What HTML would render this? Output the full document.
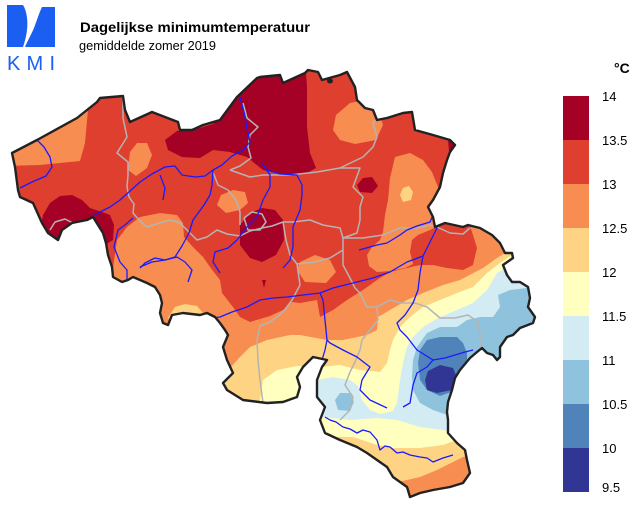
<!DOCTYPE html>
<html><head><meta charset="utf-8"><style>
html,body{margin:0;padding:0;background:#fff;}
svg{display:block;}
text{font-family:"Liberation Sans",Arial,sans-serif;}
</style></head><body>
<svg width="640" height="507" viewBox="0 0 640 507" xmlns="http://www.w3.org/2000/svg">
<defs>
<clipPath id="be"><polygon points="12,153 37,140 77,118 97,102 100,98 123,96 125,110 130,122 152,112 178,122 180,130 192,130 203,125 220,120 237,97 257,78 260,77 280,75 283,83 305,73 308,70 318,72 322,80 340,75 347,72 355,87 357,100 365,108 373,110 377,120 387,118 403,113 412,112 415,130 433,135 450,140 455,145 450,152 447,160 443,173 440,187 433,200 428,207 433,217 435,227 445,223 463,227 468,225 480,228 492,235 500,243 505,253 512,253 513,258 503,265 507,275 512,282 520,282 528,287 530,298 528,307 535,317 533,323 520,328 513,335 507,337 500,347 500,357 497,360 493,355 487,353 482,348 477,352 470,358 460,370 455,378 452,390 448,402 447,412 448,420 448,433 457,443 465,450 467,460 470,473 463,483 450,487 433,490 420,493 410,497 407,487 393,477 387,467 377,460 367,453 357,447 340,440 325,433 320,420 325,407 317,397 317,380 322,367 327,360 313,357 303,367 297,377 300,387 297,397 283,402 267,403 243,400 227,390 223,383 233,373 227,360 223,347 228,335 225,330 220,323 215,317 207,313 200,315 183,313 172,315 168,325 163,323 160,313 162,303 160,295 155,287 147,283 140,280 133,277 128,280 122,282 113,277 112,267 108,255 106,243 103,233 93,217 87,220 72,223 62,230 58,240 48,233 42,223 33,203 20,197 18,190 15,167"/></clipPath>
</defs>

<!-- Logo -->
<path d="M7,5 L23,5 C27,11 28,22 27,30 C26,38 24,44 23,47 L7,47 Z" fill="#1a5ef2"/>
<path d="M42,7 L55,7 L55,47 L25,47 C27,42 31,35 34,28 C37,20 39,13 42,7 Z" fill="#1a5ef2"/>
<text x="7" y="70" font-size="20" fill="#1a5ef2" textLength="48" lengthAdjust="spacing">KMI</text>

<!-- Titles -->
<text x="80" y="32" font-size="14" font-weight="bold" fill="#000" textLength="230" lengthAdjust="spacingAndGlyphs">Dagelijkse minimumtemperatuur</text>
<text x="79" y="50" font-size="13" fill="#000" textLength="137" lengthAdjust="spacingAndGlyphs">gemiddelde zomer 2019</text>

<!-- Map -->
<g clip-path="url(#be)">
<rect x="0" y="0" width="640" height="507" fill="#DE3F2E"/>
<polygon fill="#F88D52" points="0,150 0,166 40,165 80,161 85,143 88,110 92,90 40,90"/>
<polygon fill="#F88D52" points="128,170 130,152 137,143 147,143 152,155 147,168 136,176"/>
<polygon fill="#F88D52" points="333,130 336,115 350,103 365,100 378,108 383,125 376,140 355,144 340,140"/>
<polygon fill="#F88D52" points="395,157 410,153 423,160 432,172 438,187 445,200 445,215 440,225 430,230 418,235 412,240 410,252 413,264 405,268 390,271 377,272 369,266 367,255 372,247 380,240 383,232 385,215 388,200 390,178"/>
<polygon fill="#FED384" points="400,195 403,188 409,186 413,192 411,200 403,202"/>
<polygon fill="#A50026" points="165,140 177,131 200,128 213,124 228,106 235,60 305,60 307,87 307,127 310,153 316,168 305,174 290,176 263,170 247,157 230,152 213,150 200,158 182,157 168,150"/>
<polygon fill="#A50026" points="40,230 43,215 50,203 60,196 72,195 82,200 90,208 102,212 110,215 114,225 113,240 105,245 95,240 60,245 40,245"/>
<polygon fill="#A50026" points="448,140 456,142 456,150 449,151"/>
<polygon fill="#F88D52" points="100,290 108,275 113,268 117,240 127,227 140,217 160,213 177,215 183,223 184,237 193,247 203,257 210,267 220,280 222,293 233,307 240,317 250,322 270,316 283,310 292,302 300,303 317,300 320,317 333,310 347,300 363,290 377,280 390,272 407,268 420,265 433,265 447,268 463,270 473,265 477,248 473,235 470,226 480,215 560,215 560,507 100,507"/>
<polygon fill="#F88D52" points="297,270 300,262 315,255 330,260 336,272 326,283 305,282"/>
<polygon fill="#F88D52" points="217,205 221,195 233,190 245,192 248,203 240,210 226,213"/>
<polygon fill="#A50026" points="240,225 250,213 262,208 275,210 283,220 284,240 276,255 262,262 250,258 240,245"/>
<polygon fill="#A50026" points="262,280 266,280 264,288"/>
<polygon fill="#A50026" points="357,185 363,178 372,177 378,186 372,193 360,192"/>
<polygon fill="#FED384" points="168,318 175,307 185,304 197,306 203,313 200,322 172,322"/>
<polygon fill="#FED384" points="215,400 222,380 230,368 240,357 250,347 267,340 290,335 300,335 327,340 343,340 367,335 377,330 378,317 390,310 407,300 423,293 443,285 460,280 483,268 497,258 507,252 515,248 560,248 560,507 215,507"/>
<polygon fill="#FFFFBF" points="250,410 260,400 263,380 277,370 297,366 320,367 340,365 360,370 380,372 387,363 390,350 393,340 400,327 410,317 423,307 440,300 457,293 473,287 487,273 500,263 512,255 540,250 560,255 560,507 250,507"/>
<polygon fill="#D3ECF4" points="305,395 317,380 333,377 350,380 358,386 362,400 370,410 380,414 393,411 397,403 400,380 403,363 407,347 413,337 423,327 440,317 457,310 473,303 487,290 497,273 507,267 513,260 540,255 560,260 560,425 452,432 443,430 420,427 397,420 377,418 350,420 323,417 305,415"/>
<polygon fill="#8FC3DD" points="433,410 420,403 413,390 412,377 413,360 417,347 427,333 440,327 457,327 467,320 480,317 493,317 500,307 498,295 510,290 527,288 560,288 560,420 450,416"/>
<polygon fill="#8FC3DD" points="335,400 340,393 350,393 354,402 350,411 338,410"/>
<polygon fill="#5183BB" points="427,390 420,380 418,363 420,350 427,340 440,337 457,337 463,343 467,353 467,367 460,378 457,390 440,396"/>
<polygon fill="#313695" points="425,380 428,371 440,365 453,368 458,380 452,390 437,393 427,390"/>
<polygon fill="#FED384" points="300,440 330,437 353,437 377,445 393,448 420,448 443,445 457,440 475,438 560,438 560,507 300,507"/>
<polygon fill="#F88D52" points="380,485 407,480 420,477 437,470 453,462 463,457 480,452 560,452 560,507 380,507"/>

<!-- province boundaries -->
<g fill="none" stroke="#b4b4b4" stroke-width="1.5" stroke-linejoin="round">
<polyline points="123,97 123,118 127,137 117,153 128,162 128,175 127,187 129,197 134,204 133,213 140,221 147,227 160,223 170,220 180,223 187,230 197,240 207,237 217,230 227,234 240,236 250,231 262,228 272,226 283,222 293,222 310,220 323,225 340,228 343,238 363,238 383,235 400,228 417,228 430,225 437,227 450,233 463,234 470,228"/>
<polyline points="50,230 55,222 65,219 75,224 72,232"/>
<polyline points="243,103 247,118 258,127 250,135 248,147 251,158 240,166 230,170"/>
<polyline points="230,170 250,177 263,175 290,175 317,172 340,168 363,157 373,147 377,137 373,123 377,118"/>
<polyline points="340,168 360,168 353,187 363,197 360,207 360,220 357,233 343,238"/>
<polyline points="213,172 218,185 228,190 236,200 240,212 240,225"/>
<polyline points="244,218 252,212 262,214 266,222 260,230 248,230 244,218"/>
<polyline points="283,222 286,240 290,255 297,264 300,285 292,300 283,312 270,322 260,326 257,340 258,360 260,380 263,403"/>
<polyline points="297,264 315,262 330,258 343,250"/>
<polyline points="343,238 343,265 350,278 355,288 360,293 367,307 377,307 390,300 400,303"/>
<polyline points="377,307 378,320 370,330 362,340 360,350 355,362 350,372 345,385 353,397 350,410 340,420"/>
<polyline points="400,303 415,303 427,307 440,318 455,318 468,315 478,322 480,335 480,347"/>
</g>

<!-- rivers -->
<g fill="none" stroke="#1a1aff" stroke-width="1.3" stroke-linejoin="round">
<polyline points="37,140 44,147 50,157 52,167 46,176 32,182 20,188"/>
<polyline points="87,220 98,213 110,207 120,200 130,191 140,182 152,174 165,167 175,166 182,175 195,177 205,176 213,170 222,165 232,156 243,150 250,142 247,128 244,112 240,97"/>
<polyline points="213,170 212,185 210,195 204,205 193,220 189,233 182,246 175,257 165,260 155,258 145,263 140,268"/>
<polyline points="133,218 125,225 118,230 114,247 120,262 127,270 127,282"/>
<polyline points="140,267 152,262 165,260 177,257 185,262 192,270 188,282"/>
<polyline points="160,175 165,188 163,200"/>
<polyline points="262,163 270,175 270,187 263,200 257,217 247,227 237,240 228,248 215,252 213,262 220,273"/>
<polyline points="267,170 280,174 297,175 302,185 302,195 300,210 293,227 293,247 290,260 283,268"/>
<polyline points="359,250 377,245 387,243 400,235 407,230 417,226 430,222 433,215"/>
<polyline points="433,200 434,215 437,228 430,242 423,256"/>
<polyline points="423,256 407,262 390,272 373,278 357,282 333,288 320,293 303,295 287,297 273,298 260,300 247,307 232,312 220,317 200,320"/>
<polyline points="320,293 323,300 325,320 327,340 325,350 322,360"/>
<polyline points="327,340 330,343 343,350 357,357 370,367 362,380 360,390 370,400 387,408"/>
<polyline points="423,256 420,273 418,290 413,303 405,315 397,323 400,330 407,337 417,350 433,360 427,367 417,373 413,385 410,403 403,407"/>
<polyline points="433,360 445,358 455,355 465,352 473,350"/>
<polyline points="325,417 330,420 336,422 343,427 350,429 357,433 363,430 370,432 377,440 380,450 385,446 390,447 397,453 403,452 410,455 420,457 427,458 433,462 443,458 453,455"/>
</g>
</g>

<!-- country outline -->
<polygon fill="none" stroke="#222" stroke-width="2.4" stroke-linejoin="round" points="12,153 37,140 77,118 97,102 100,98 123,96 125,110 130,122 152,112 178,122 180,130 192,130 203,125 220,120 237,97 257,78 260,77 280,75 283,83 305,73 308,70 318,72 322,80 340,75 347,72 355,87 357,100 365,108 373,110 377,120 387,118 403,113 412,112 415,130 433,135 450,140 455,145 450,152 447,160 443,173 440,187 433,200 428,207 433,217 435,227 445,223 463,227 468,225 480,228 492,235 500,243 505,253 512,253 513,258 503,265 507,275 512,282 520,282 528,287 530,298 528,307 535,317 533,323 520,328 513,335 507,337 500,347 500,357 497,360 493,355 487,353 482,348 477,352 470,358 460,370 455,378 452,390 448,402 447,412 448,420 448,433 457,443 465,450 467,460 470,473 463,483 450,487 433,490 420,493 410,497 407,487 393,477 387,467 377,460 367,453 357,447 340,440 325,433 320,420 325,407 317,397 317,380 322,367 327,360 313,357 303,367 297,377 300,387 297,397 283,402 267,403 243,400 227,390 223,383 233,373 227,360 223,347 228,335 225,330 220,323 215,317 207,313 200,315 183,313 172,315 168,325 163,323 160,313 162,303 160,295 155,287 147,283 140,280 133,277 128,280 122,282 113,277 112,267 108,255 106,243 103,233 93,217 87,220 72,223 62,230 58,240 48,233 42,223 33,203 20,197 18,190 15,167"/>
<ellipse cx="330" cy="81" rx="3" ry="2.5" fill="#222"/>

<!-- Legend -->
<text x="614" y="73" font-size="14" font-weight="bold" fill="#000">°C</text>
<rect x="563" y="96" width="26" height="44" fill="#A50026"/>
<rect x="563" y="140" width="26" height="44" fill="#DE3F2E"/>
<rect x="563" y="184" width="26" height="44" fill="#F88D52"/>
<rect x="563" y="228" width="26" height="44" fill="#FED384"/>
<rect x="563" y="272" width="26" height="44" fill="#FFFFBF"/>
<rect x="563" y="316" width="26" height="44" fill="#D3ECF4"/>
<rect x="563" y="360" width="26" height="44" fill="#8FC3DD"/>
<rect x="563" y="404" width="26" height="44" fill="#5183BB"/>
<rect x="563" y="448" width="26" height="44" fill="#313695"/>
<g font-size="13" fill="#000">
<text x="602" y="101">14</text>
<text x="602" y="145">13.5</text>
<text x="602" y="189">13</text>
<text x="602" y="233">12.5</text>
<text x="602" y="277">12</text>
<text x="602" y="321">11.5</text>
<text x="602" y="365">11</text>
<text x="602" y="409">10.5</text>
<text x="602" y="453">10</text>
<text x="602" y="492">9.5</text>
</g>
</svg>
</body></html>
